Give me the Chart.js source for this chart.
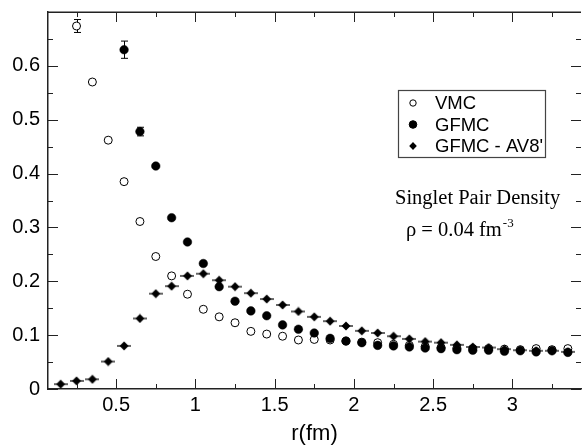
<!DOCTYPE html>
<html><head><meta charset="utf-8">
<script src="https://cdn.jsdelivr.net/npm/chart.js@4/dist/chart.umd.min.js"></script>
<style>html,body{margin:0;padding:0;background:#fff;overflow:hidden}canvas{display:block}</style>
</head><body>
<canvas id="c" width="586" height="445"></canvas>
<script>
// ---- data ----
const rVMC = [0.25,0.35,0.45,0.55,0.65,0.75,0.85,0.95,1.05,1.15,1.25,1.35,1.45,1.55,1.65,1.75,1.85,1.95,2.05,2.15,2.25,2.35,2.45,2.55,2.65,2.75,2.85,2.95,3.05,3.15,3.25,3.35];
const gVMC = [0.674,0.570,0.462,0.385,0.311,0.246,0.210,0.176,0.148,0.134,0.123,0.107,0.102,0.098,0.091,0.092,0.091,0.089,0.087,0.086,0.083,0.081,0.079,0.077,0.076,0.075,0.075,0.074,0.073,0.075,0.073,0.075];
const eVMC = [0.012];

const rGFMC = [0.55,0.65,0.75,0.85,0.95,1.05,1.15,1.25,1.35,1.45,1.55,1.65,1.75,1.85,1.95,2.05,2.15,2.25,2.35,2.45,2.55,2.65,2.75,2.85,2.95,3.05,3.15,3.25,3.35];
const gGFMC = [0.630,0.478,0.414,0.318,0.273,0.233,0.190,0.163,0.145,0.136,0.119,0.111,0.104,0.094,0.089,0.086,0.081,0.080,0.078,0.076,0.075,0.073,0.072,0.072,0.070,0.071,0.069,0.071,0.068];
const eGFMC = [0.016,0.008];

const rAV8 = [0.15,0.25,0.35,0.45,0.55,0.65,0.75,0.85,0.95,1.05,1.15,1.25,1.35,1.45,1.55,1.65,1.75,1.85,1.95,2.05,2.15,2.25,2.35,2.45,2.55,2.65,2.75,2.85,2.95,3.05,3.15,3.25,3.35];
const gAV8 = [0.009,0.015,0.018,0.051,0.080,0.131,0.177,0.191,0.210,0.214,0.202,0.190,0.178,0.167,0.156,0.144,0.134,0.126,0.117,0.108,0.104,0.098,0.093,0.088,0.086,0.082,0.078,0.077,0.074,0.072,0.071,0.071,0.069];

const seriesLabels = ['VMC', 'GFMC', "GFMC - AV8'"];
const xMajorTicks = [0.5, 1, 1.5, 2, 2.5, 3];
const xMinorTicks = [0.25, 0.75, 1.25, 1.75, 2.25, 2.75, 3.25];
const yMajorTicks = [0, 0.1, 0.2, 0.3, 0.4, 0.5, 0.6];
const yMinorTicks = [0.05, 0.15, 0.25, 0.35, 0.45, 0.55, 0.65];
const xTitle = 'r(fm)';
const noteLine1 = 'Singlet Pair Density';
const noteLine2 = 'ρ = 0.04 fm';
const noteSup = '-3';

// ---- styling ----
const SANS = '"Liberation Sans", Arial, Helvetica, sans-serif';
const SERIF = '"Liberation Serif", "Times New Roman", serif';
const AXIS = '#222';

function makeDiamond() {
  const c = document.createElement('canvas');
  c.width = 14; c.height = 10;
  const g = c.getContext('2d');
  g.fillStyle = '#000';
  g.beginPath();
  g.moveTo(7, 0.5); g.lineTo(11.5, 5); g.lineTo(7, 9.5); g.lineTo(2.5, 5); g.closePath();
  g.fill();
  g.strokeStyle = '#000'; g.lineWidth = 1.2;
  g.beginPath(); g.moveTo(0, 5); g.lineTo(14, 5); g.stroke();
  return c;
}
const diamond = makeDiamond();

const pts = (xs, ys) => xs.map((x, i) => ({x: x, y: ys[i]}));

const errorBars = {
  id: 'errorBars',
  beforeDatasetsDraw(chart) {
    const ctx = chart.ctx, xs = chart.scales.x, ys = chart.scales.y;
    ctx.save();
    ctx.strokeStyle = '#000'; ctx.lineWidth = 1;
    chart.data.datasets.forEach(ds => {
      const errs = ds.errors || [];
      ds.data.forEach((p, i) => {
        const e = errs[i];
        if (!e) return;
        const px = Math.round(xs.getPixelForValue(p.x)) + 0.5;
        const y1 = ys.getPixelForValue(p.y + e), y2 = ys.getPixelForValue(p.y - e);
        ctx.beginPath();
        ctx.moveTo(px, y1); ctx.lineTo(px, y2);
        ctx.moveTo(px - 3.5, y1); ctx.lineTo(px + 3.5, y1);
        ctx.moveTo(px - 3.5, y2); ctx.lineTo(px + 3.5, y2);
        ctx.stroke();
      });
    });
    ctx.restore();
  }
};

const frame = {
  id: 'frame',
  afterDraw(chart) {
    const ctx = chart.ctx, a = chart.chartArea, xs = chart.scales.x, ys = chart.scales.y;
    ctx.save();
    ctx.strokeStyle = AXIS;
    ctx.lineWidth = 1.5;
    ctx.beginPath(); ctx.moveTo(a.left, a.top + 0.25); ctx.lineTo(a.right, a.top + 0.25); ctx.stroke();
    ctx.lineWidth = 1;
    const tick = (vals, len) => {
      vals.forEach(v => {
        const px = Math.round(xs.getPixelForValue(v)) + 0.5;
        ctx.beginPath();
        ctx.moveTo(px, a.bottom); ctx.lineTo(px, a.bottom - len);
        ctx.moveTo(px, a.top); ctx.lineTo(px, a.top + len);
        ctx.stroke();
      });
    };
    const ytick = (vals, len) => {
      vals.forEach(v => {
        const py = Math.round(ys.getPixelForValue(v)) + 0.5;
        ctx.beginPath();
        ctx.moveTo(a.left, py); ctx.lineTo(a.left + len, py);
        ctx.moveTo(a.right, py); ctx.lineTo(a.right - len, py);
        ctx.stroke();
      });
    };
    tick(xMajorTicks, 10); tick(xMinorTicks, 5);
    ytick(yMajorTicks, 10); ytick(yMinorTicks, 5);

    // legend box
    const lx = 398.5, ly = 90.5, lw = 147, lh = 67;
    ctx.strokeStyle = '#444'; ctx.lineWidth = 1.2;
    ctx.strokeRect(lx, ly, lw, lh);
    const rows = [103, 124.5, 146];
    ctx.font = '18.5px ' + SANS;
    ctx.fillStyle = '#000';
    ctx.textBaseline = 'middle';
    ctx.textAlign = 'left';
    chart.data.datasets.forEach((ds, i) => {
      const cy = rows[i], cx = 413;
      if (ds.pointStyle === 'circle') {
        ctx.beginPath();
        ctx.arc(cx, cy, i === 0 ? 3.2 : 3.8, 0, Math.PI * 2);
        ctx.fillStyle = ds.backgroundColor; ctx.fill();
        ctx.strokeStyle = '#000'; ctx.lineWidth = 1; ctx.stroke();
      } else {
        ctx.fillStyle = '#000';
        ctx.beginPath();
        ctx.moveTo(cx, cy - 4); ctx.lineTo(cx + 3.8, cy); ctx.lineTo(cx, cy + 4); ctx.lineTo(cx - 3.8, cy); ctx.closePath();
        ctx.fill();
      }
      ctx.fillStyle = '#000';
      ctx.fillText(ds.label, 435, cy + 1);
    });

    // annotation
    ctx.textBaseline = 'alphabetic';
    ctx.font = '20.5px ' + SERIF;
    ctx.fillText(noteLine1, 395, 204);
    ctx.fillText(noteLine2, 406, 236);
    const w = ctx.measureText(noteLine2).width;
    ctx.font = '13px ' + SERIF;
    ctx.fillText(noteSup, 406 + w + 1, 227);
    ctx.restore();
  }
};

new Chart(document.getElementById('c'), {
  type: 'scatter',
  data: {
    datasets: [
      {label: seriesLabels[0], data: pts(rVMC, gVMC), errors: eVMC, pointStyle: 'circle', pointRadius: 4, borderWidth: 1, borderColor: '#000', backgroundColor: '#fff', order: 3},
      {label: seriesLabels[1], data: pts(rGFMC, gGFMC), errors: eGFMC, pointStyle: 'circle', pointRadius: 4.3, borderWidth: 0.5, borderColor: '#000', backgroundColor: '#000', order: 2},
      {label: seriesLabels[2], data: pts(rAV8, gAV8), pointStyle: diamond, pointRadius: 5, borderWidth: 0, borderColor: '#000', backgroundColor: '#000', order: 1}
    ]
  },
  options: {
    responsive: false,
    devicePixelRatio: 1,
    animation: false,
    events: [],
    layout: {padding: {top: 12, right: 0, bottom: 0, left: 0}},
    plugins: {legend: {display: false}, tooltip: {enabled: false}},
    scales: {
      x: {
        type: 'linear', min: 0.07, max: 3.433,
        grid: {display: false, drawTicks: false},
        border: {display: true, color: AXIS, width: 1.5},
        ticks: {color: '#000', font: {family: SANS, size: 20}, padding: 4, maxRotation: 0, callback: v => String(+v.toFixed(2))},
        afterBuildTicks: s => { s.ticks = xMajorTicks.map(v => ({value: v})); },
        afterFit: s => { s.height = 56; s.paddingLeft = 0; s.paddingRight = 0; },
        title: {display: true, text: xTitle, color: '#000', font: {family: SANS, size: 22, lineHeight: 1}, padding: {top: 0, bottom: 0}}
      },
      y: {
        type: 'linear', min: 0, max: 0.7,
        grid: {display: false, drawTicks: false},
        border: {display: true, color: AXIS, width: 1.5},
        ticks: {color: '#000', font: {family: SANS, size: 20}, padding: 8, callback: v => String(+v.toFixed(2))},
        afterBuildTicks: s => { s.ticks = yMajorTicks.map(v => ({value: v})); },
        afterFit: s => { s.width = 48; s.paddingTop = 0; s.paddingBottom = 0; }
      }
    }
  },
  plugins: [errorBars, frame]
});
</script>
</body></html>
